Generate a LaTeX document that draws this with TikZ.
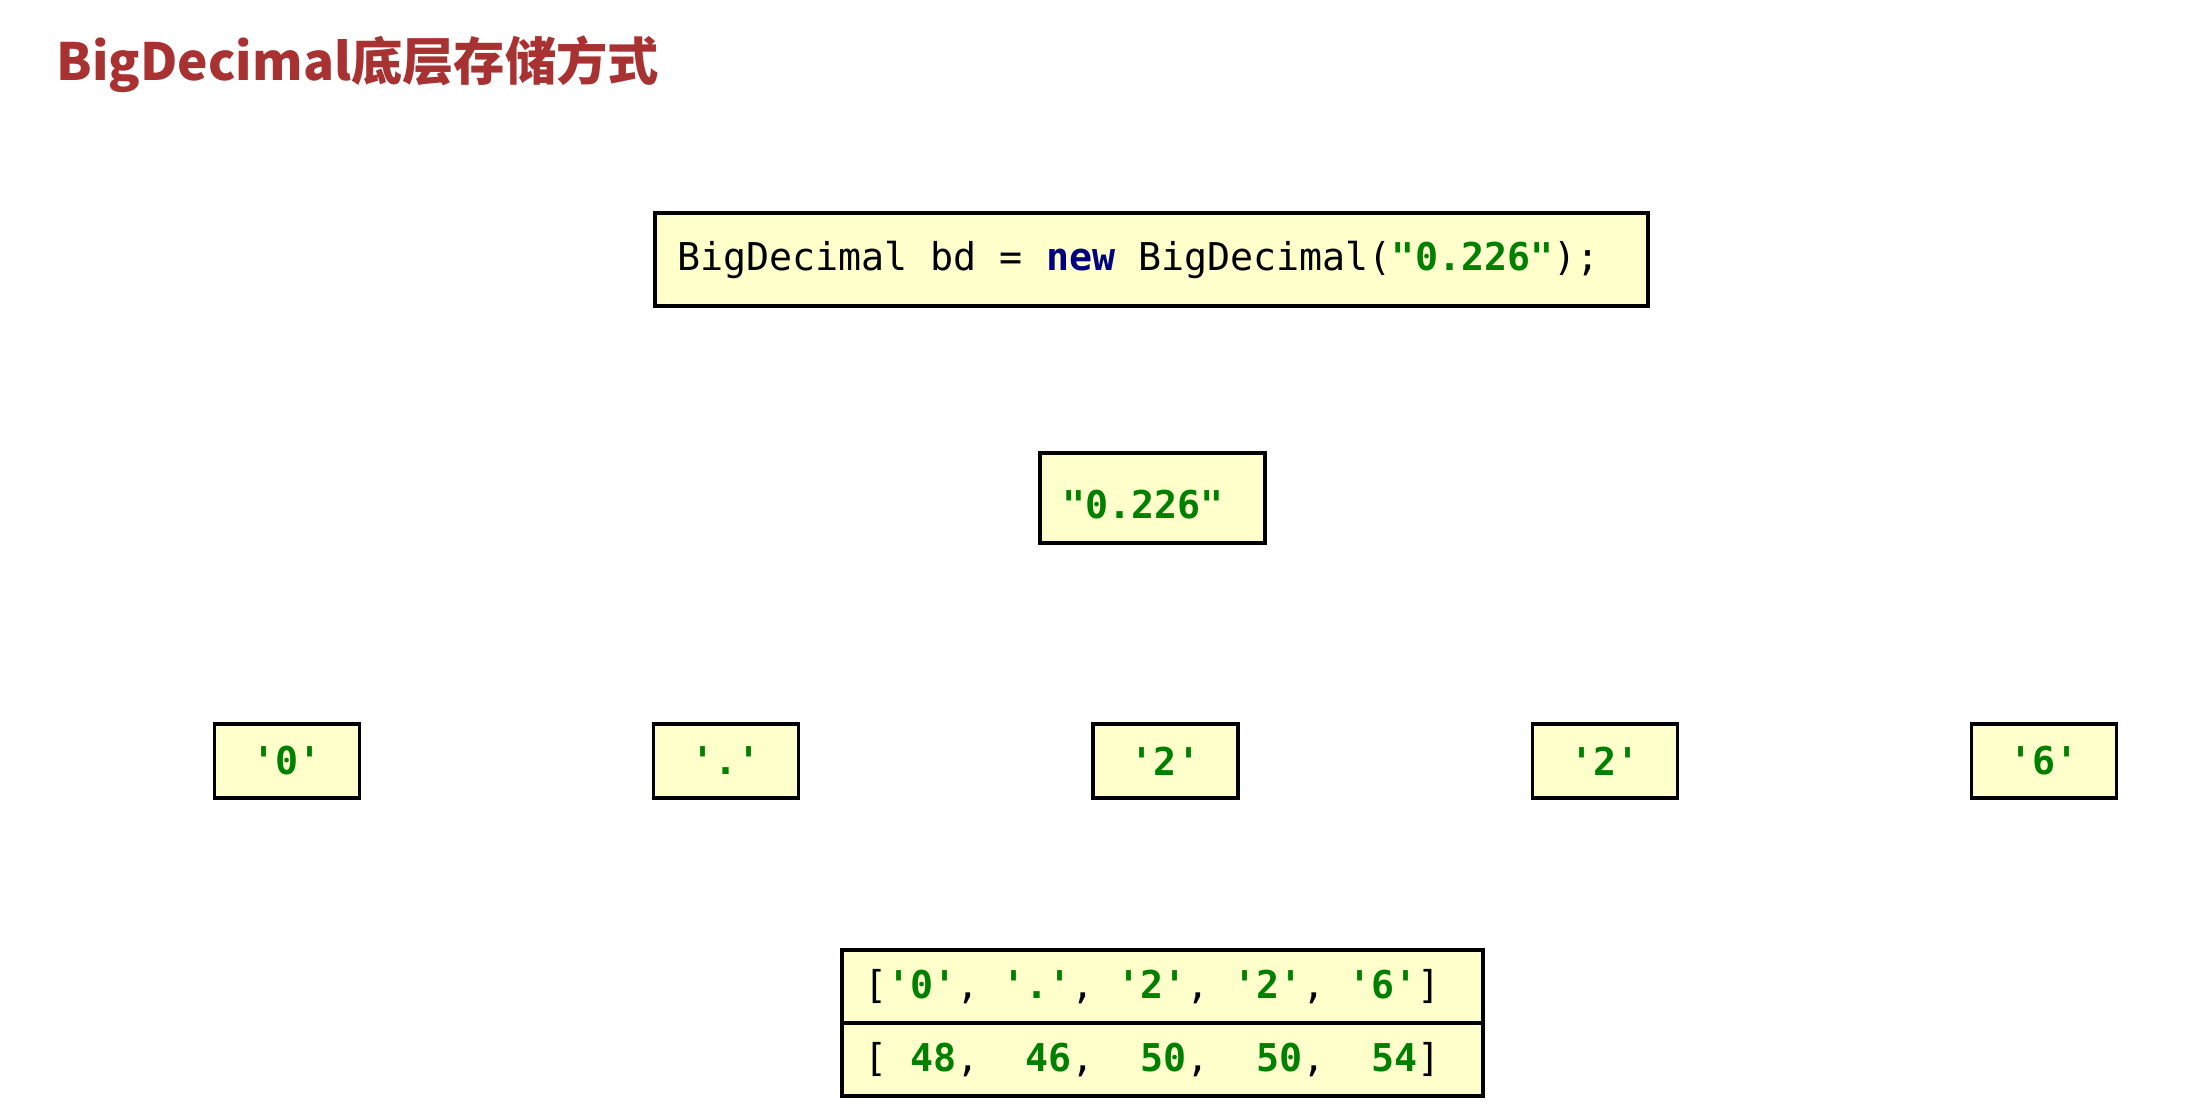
\documentclass[tikz,border=0pt]{standalone}
\usepackage{fontspec}
\usepackage{tikz}
\setmonofont{DejaVu Sans Mono}
\newfontfamily\cjk{Noto Sans CJK SC}

\definecolor{titlered}{HTML}{A83232}
\definecolor{boxfill}{HTML}{FFFFCC}
\definecolor{strgreen}{HTML}{008000}
\definecolor{kwnavy}{HTML}{000080}
\newcommand{\jstr}[1]{\textcolor{strgreen}{\bfseries #1}}
\newcommand{\jkw}[1]{\textcolor{kwnavy}{\bfseries #1}}
\newcommand{\ms}{\hphantom{0}}% 等幅の空白
\newcommand{\codefont}{\ttfamily\fontsize{10.9}{13}\selectfont}

\tikzset{
  codebox/.style={draw=black, line width=0.9pt, fill=boxfill, inner sep=0pt, font=\codefont},
  leftbox/.style={codebox, align=left, inner xsep=0.22cm, text width=#1}
}

\begin{document}
\begin{tikzpicture}
                \useasboundingbox (0,0) rectangle (21.88,-11.19);%画面
                \node[anchor=base west, inner sep=0pt, text=titlered, font=\cjk\bfseries\fontsize{14.6}{17}\selectfont] (title) at (0.56,-0.80) {BigDecimal底层存储方式};%タイトル
                \node[leftbox=9.49cm, minimum height=0.93cm] (code) at (11.515,-2.595) {BigDecimal\ms bd\ms=\ms\jkw{new}\ms BigDecimal(\jstr{"0.226"});};%コード
                \node[leftbox=1.81cm, minimum height=0.90cm] (str) at (11.525,-4.98) {\raisebox{-0.07cm}[\height][\depth]{\jstr{"0.226"}}};%文字列
                \foreach \c [count=\i from 0] in {0,{.},2,2,6}
                    \node[codebox, minimum width=1.45cm, minimum height=0.74cm] (ch\i) at ({2.87+4.3925*\i},-7.61) {\jstr{'\c'}};%文字
                \node[leftbox=5.97cm, minimum height=0.73cm] (arr) at (11.625,-9.865) {[\jstr{'0'},\ms\jstr{'.'},\ms\jstr{'2'},\ms\jstr{'2'},\ms\jstr{'6'}]};%char配列
                \node[leftbox=5.97cm, minimum height=0.73cm] (asc) at (11.625,-10.595) {[\ms\jstr{48},\ms\ms\jstr{46},\ms\ms\jstr{50},\ms\ms\jstr{50},\ms\ms\jstr{54}]};%ASCII
            \end{tikzpicture}
\end{document}
